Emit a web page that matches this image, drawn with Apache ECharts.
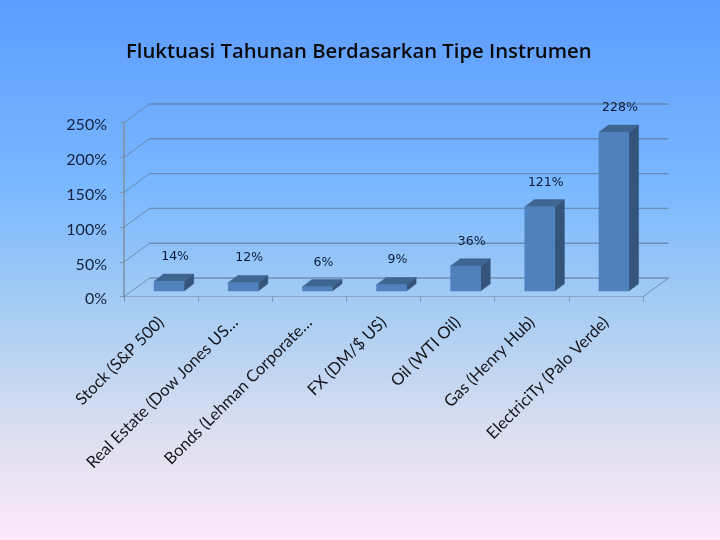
<!DOCTYPE html>
<html>
<head>
<meta charset="utf-8">
<style>html,body{margin:0;padding:0}#c{width:720px;height:540px}</style>
<script src="https://cdn.jsdelivr.net/npm/echarts@6/dist/echarts.min.js"></script>
</head>
<body>
<div id="c"></div>
<script>
const titleText = 'Fluktuasi Tahunan Berdasarkan Tipe Instrumen';
const categories = ['Stock (S&P 500)','Real Estate (Dow Jones US…','Bonds (Lehman Corporate…','FX (DM/$ US)','Oil (WTI Oil)','Gas (Henry Hub)','ElectriciTy (Palo Verde)'];
const values = [14,12,6,9,36,121,228];
const yTicks = [0,50,100,150,200,250];

const DEPTH_X = 25.5, DEPTH_Y = -18.7;
const gridColor = 'rgba(95,120,150,0.7)';

function poly(points, fill){
  return {type:'polygon', shape:{points}, style:{fill, stroke:fill, lineWidth:0.5}};
}
function renderWall(params, api){
  const cs = params.coordSys;
  const y = api.coord([0, api.value(1)])[1];
  const v = api.value(1);
  const right = cs.x + cs.width;
  const children = [
    {type:'line', shape:{x1:cs.x,y1:y,x2:cs.x+DEPTH_X,y2:y+DEPTH_Y}, style:{stroke:gridColor,lineWidth:1}},
    {type:'line', shape:{x1:cs.x+DEPTH_X,y1:y+DEPTH_Y,x2:right+DEPTH_X,y2:y+DEPTH_Y}, style:{stroke:gridColor,lineWidth:1.4}}
  ];
  if (v === 0) {
    children.push({type:'line', shape:{x1:right,y1:y,x2:right+DEPTH_X,y2:y+DEPTH_Y}, style:{stroke:gridColor,lineWidth:1}});
  }
  return {type:'group', children};
}
function renderBar(params, api){
  const c = api.coord([api.value(0), api.value(1)]);
  const base = api.coord([api.value(0), 0]);
  const band = api.size([1,0])[0];
  const w = band*0.405, dx = 9.6, dy = -7.2;
  const x0 = c[0] + 8 - w/2, x1 = x0 + w;
  const bot = base[1] - 5.7, top = c[1] - 5.7;
  return {type:'group', children:[
    poly([[x1,bot],[x1+dx,bot+dy],[x1+dx,top+dy],[x1,top]], '#34547c'),
    poly([[x0,top],[x1,top],[x1+dx,top+dy],[x0+dx,top+dy]], '#3f6591'),
    poly([[x0,bot],[x1,bot],[x1,top],[x0,top]], '#4f81bd'),
    {type:'text', style:{text: api.value(1)+'%', x:(x0+x1)/2+6, y:top-24.5, align:'center', verticalAlign:'middle',
      font:'12.5px "DejaVu Sans"', fill:'#0c1a3a'}}
  ]};
}

const chart = echarts.init(document.getElementById('c'), null, {renderer:'canvas'});
chart.setOption({
  animation:false,
  backgroundColor:{type:'linear',x:0,y:0,x2:0,y2:1,colorStops:[
    {offset:0,color:'#5c9cff'},{offset:0.35,color:'#7ab8ff'},{offset:0.58,color:'#a8cdf3'},
    {offset:0.82,color:'#dfe0f0'},{offset:1,color:'#fde8f8'}]},
  title:{text:titleText,left:126,top:42,padding:0,
    textStyle:{fontFamily:'"Open Sans"',fontWeight:600,fontSize:20.3,color:'#0a0a0a'}},
  grid:{left:124,right:77,top:122.7,bottom:243.3,containLabel:false},
  xAxis:{type:'category',data:categories,
    axisLine:{show:true,lineStyle:{color:'#8ba6c4',width:1.2}},
    axisTick:{show:true,alignWithLabel:false,length:5,lineStyle:{color:'#7d95b0',width:1}},
    axisLabel:{rotate:45,interval:0,margin:23,fontFamily:'Lato',fontSize:16.5,color:'#15151c'}},
  yAxis:{type:'value',min:0,max:250,interval:50,data:yTicks,
    axisLine:{show:true,lineStyle:{color:'#7f93aa',width:1.6}},
    axisTick:{show:true,length:4,lineStyle:{color:'#7f93aa',width:1}},
    splitLine:{show:false},
    axisLabel:{formatter:'{a|{value}%}',margin:17,
      rich:{a:{fontFamily:'Lato',fontSize:16,color:'#14233f',padding:[5,0,0,0]}}}},
  series:[
    {type:'custom',renderItem:renderWall,z:1,silent:true,encode:{x:0,y:1},data:yTicks.map(v=>[0,v])},
    {type:'custom',renderItem:renderBar,z:3,silent:true,encode:{x:0,y:1},data:values.map((v,i)=>[i,v])}
  ]
});
</script>
</body>
</html>
